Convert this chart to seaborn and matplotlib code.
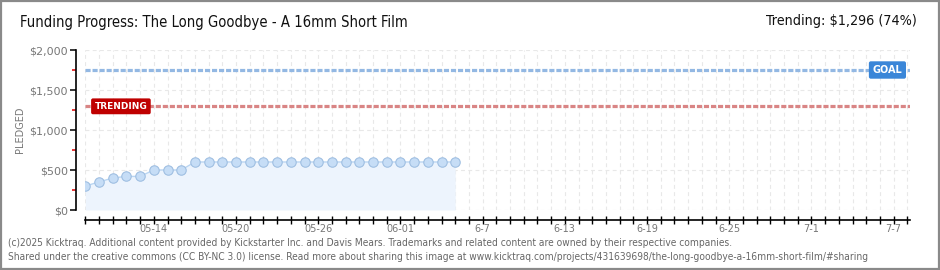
import matplotlib
matplotlib.use("Agg")
import matplotlib.pyplot as plt
import matplotlib.patches as patches
import seaborn as sns
import numpy as np
import pandas as pd

# ---- data ----
days = list(range(28))  # day 0 = 05-09
pledged = [300, 350, 400, 420, 420, 500, 500, 500] + [600] * 20
goal = 1750
trending = 1296
tick_days = [5, 11, 17, 23, 29, 35, 41, 47, 53, 59]
tick_labels = ["05-14", "05-20", "05-26", "06-01", "6-7", "6-13", "6-19", "6-25", "7-1", "7-7"]
y_ticks = [0, 500, 1000, 1500, 2000]
y_labels = ["$0", "$500", "$1,000", "$1,500", "$2,000"]
y_minor = [250, 750, 1250, 1750]
n_days = 61

sns.set_theme(style="white")
plt.rcParams["font.family"] = ["DejaVu Sans"]

W, H = 940, 270
fig = plt.figure(figsize=(W / 100, H / 100), dpi=100)
fig.patch.set_facecolor("white")

x0, x1 = 85.3, 910.0
y0, y1 = 50.0, 210.0
ax = fig.add_axes([x0 / W, 1 - y1 / H, (x1 - x0) / W, (y1 - y0) / H])
ax.set_xlim(0, (x1 - x0) / 13.7)
ax.set_ylim(0, 2000)

# grid
for d in range(n_days):
    ax.axvline(d, color="#e8e8e8", lw=0.8, ls=(0, (3.5, 3)), zorder=0)
for v in y_ticks:
    ax.axhline(v, color="#e8e8e8", lw=0.8, ls=(0, (3.5, 3)), zorder=0)

df = pd.DataFrame({"day": days, "pledged": pledged})
ax.fill_between(df["day"], df["pledged"], 0, color="#edf4fd", zorder=1, lw=0)
sns.lineplot(data=df, x="day", y="pledged", ax=ax, color="#b9d5f2", lw=1.0,
             marker="o", markersize=6.8, markerfacecolor="#c6ddf6",
             markeredgecolor="#9fbfe2", markeredgewidth=0.8, zorder=3)

# goal / trending lines
ax.axhline(goal, color="#93b8e3", lw=2.3, ls=(0, (1.6, 0.6)), zorder=2)
ax.axhline(trending, color="#d98585", lw=2.3, ls=(0, (1.6, 0.6)), zorder=2)
ax.text(58.55, goal, "GOAL", color="white", fontsize=7, ha="center", va="center",
        fontweight="bold", zorder=5,
        bbox=dict(boxstyle="round,pad=0.38,rounding_size=0.2", fc="#3a86d8", ec="none"))
ax.text(2.6, trending, "TRENDING", color="white", fontsize=6.5, ha="center", va="center",
        fontweight="bold", zorder=5,
        bbox=dict(boxstyle="round,pad=0.38,rounding_size=0.2", fc="#bf0000", ec="none"))

# spines
for s in ["top", "right"]:
    ax.spines[s].set_visible(False)
ax.spines["left"].set_position(("outward", 9.3 * 0.72))
ax.spines["bottom"].set_position(("outward", 10 * 0.72))
ax.spines["left"].set_color("black")
ax.spines["bottom"].set_color("black")
ax.spines["left"].set_linewidth(1.2)
ax.spines["bottom"].set_linewidth(1.2)
ax.spines["bottom"].set_bounds(0, (x1 - x0) / 13.7)

ax.set_yticks(y_ticks)
ax.set_yticklabels(y_labels)
ax.set_yticks(y_minor, minor=True)
ax.tick_params(axis="y", which="major", direction="out", length=4, width=1.1,
               color="black", labelsize=8, labelcolor="#777777", pad=2, left=True)
ax.tick_params(axis="y", which="minor", direction="out", length=3, width=1.1,
               color="#e00000", left=True)

ax.set_xticks(range(n_days))
lab = [""] * n_days
for d, t in zip(tick_days, tick_labels):
    lab[d] = t
ax.set_xticklabels(lab)
ax.tick_params(axis="x", which="major", direction="inout", length=6, width=1.0,
               color="black", labelsize=7, labelcolor="#777777", pad=0, bottom=True)
ax.set_xlabel("")
ax.set_ylabel("")

fig.text(20 / W, 1 - 130 / H, "PLEDGED", rotation=90, ha="center", va="center",
         fontsize=7, color="#777777")

# header
fig.text(20 / W, 1 - 22 / H, "Funding Progress: The Long Goodbye - A 16mm Short Film",
         fontsize=10.6, fontstretch="condensed", color="#111111", ha="left", va="center")
fig.text(917 / W, 1 - 21 / H, "Trending: $1,296 (74%)", fontsize=10.3, fontstretch="condensed",
         color="#111111", ha="right", va="center")

# footer
fig.text(8 / W, 1 - 243 / H,
         "(c)2025 Kicktraq. Additional content provided by Kickstarter Inc. and Davis Mears. "
         "Trademarks and related content are owned by their respective companies.",
         fontsize=7.3, fontstretch="condensed", color="#666666", ha="left", va="center")
fig.text(8 / W, 1 - 257 / H,
         "Shared under the creative commons (CC BY-NC 3.0) license. Read more about sharing this image at "
         "www.kicktraq.com/projects/431639698/the-long-goodbye-a-16mm-short-film/#sharing",
         fontsize=7.3, fontstretch="condensed", color="#666666", ha="left", va="center")

# border
fig.add_artist(patches.Rectangle((0.001, 0.002), 0.998, 0.996, transform=fig.transFigure,
                                 fill=False, ec="#8a8a8a", lw=1.6))

fig.savefig("out.png", dpi=100, facecolor="white")
